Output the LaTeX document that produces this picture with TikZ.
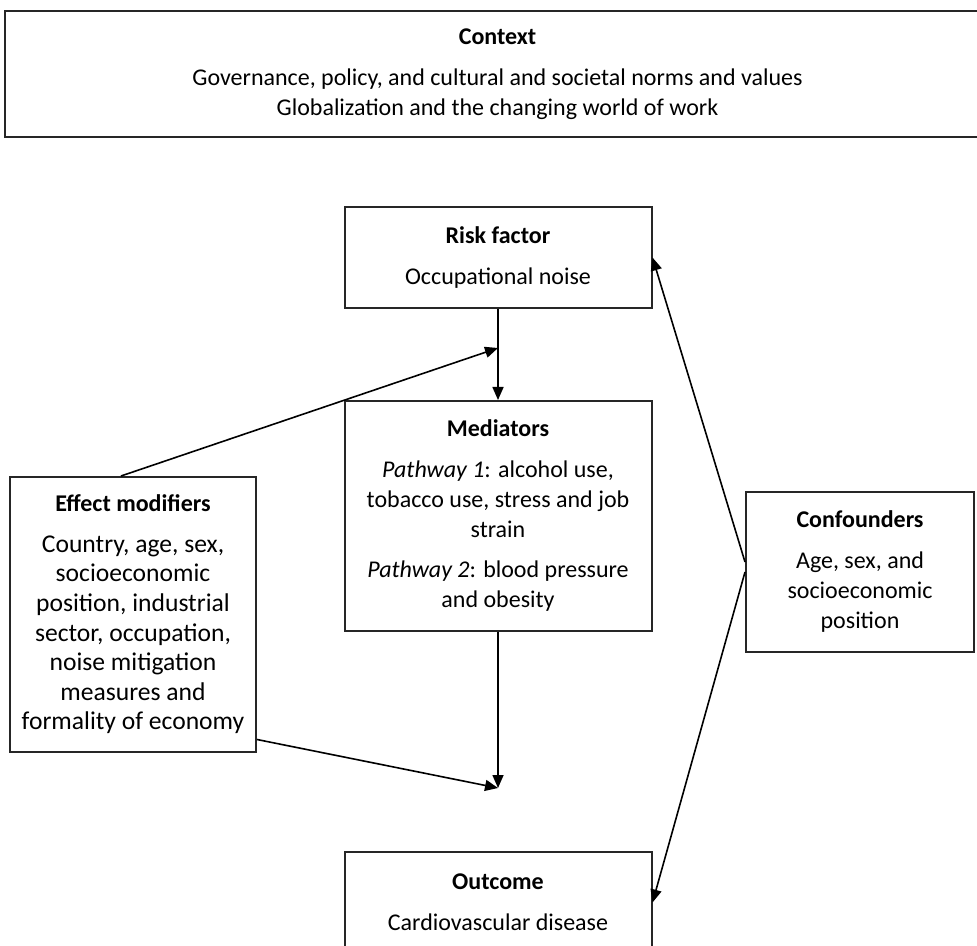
\documentclass[tikz,border=0pt]{standalone}
\usepackage{fontspec}
\setmainfont{Carlito}
\usetikzlibrary{arrows.meta,calc}

\tikzset{
	box/.style={draw=black!85, line width=1pt, align=center, inner sep=0pt, font=\fontsize{12}{15}\selectfont},
	link/.style={line width=0.8pt, -{Triangle[length=6.5pt,width=5.5pt]}},
}

\newcommand{\boxhead}[1]{{\fontsize{12}{15}\selectfont\textbf{#1}}\\[5.5pt]}

\begin{document}
\begin{tikzpicture}[x=0.5pt, y=-0.5pt]
		\useasboundingbox (0,0) rectangle (977,945);
		\clip (0,0) rectangle (977,945);

		\node[box, minimum width=492.5pt, minimum height=63pt] (context) at (497.5,74)
			{\boxhead{Context}Governance, policy, and cultural and societal norms and values\\Globalization and the changing world of work};

		\node[box, minimum width=153.5pt, minimum height=50.5pt] (risk) at (498,257.5)
			{\boxhead{Risk factor}Occupational noise};
		\node[box, minimum width=153.5pt, minimum height=115pt] (med) at (498,516)
			{\boxhead{Mediators}\textit{Pathway 1}: alcohol use,\\tobacco use, stress and job\\strain\\[5pt]\textit{Pathway 2}: blood pressure\\and obesity};
		\node[box, minimum width=153.5pt, minimum height=50.5pt] (outcome) at (498,902.5)
			{\boxhead{Outcome}Cardiovascular disease};

		\node[box, minimum width=123pt, minimum height=137.5pt, font=\fontsize{12.8}{14.8}\selectfont] (effect) at (133,614.5)
			{\boxhead{Effect modifiers}Country, age, sex,\\socioeconomic\\position, industrial\\sector, occupation,\\noise mitigation\\measures and\\formality of economy};
		\node[box, minimum width=114pt, minimum height=80pt] (conf) at (860,572)
			{\boxhead{Confounders}Age, sex, and\\socioeconomic\\position};

		% joins on the vertical path
		\coordinate (jtop) at (498,348);
		\coordinate (jbot) at (498,788);

		\draw[link] (risk.south) -- (med.north);
		\draw[link] (med.south) -- (jbot);
		\draw[link] ($(effect.north west)+(112,0)$) -- (jtop);
		\draw[link] ($(effect.east)+(0,125)$) -- (jbot);
		\draw[link] ($(conf.west)+(0,-10)$) -- (risk.east);
		\draw[link] (conf.west) -- (outcome.east);
	\end{tikzpicture}
\end{document}
